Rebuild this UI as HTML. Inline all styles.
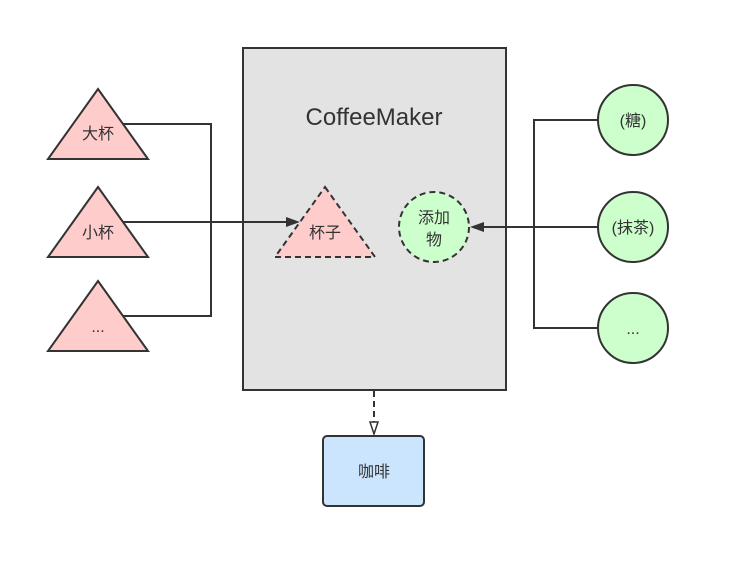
<!DOCTYPE html>
<html><head><meta charset="utf-8"><style>
html,body{margin:0;padding:0;background:#fff;}
svg{display:block;}
text{font-family:"Liberation Sans","Noto Sans CJK SC",sans-serif;fill:#333;}
</style></head><body>
<svg width="730" height="568" viewBox="0 0 730 568" xmlns="http://www.w3.org/2000/svg">
<rect x="243" y="48" width="263" height="342" fill="#e3e3e3" stroke="#333" stroke-width="2"/>
<text x="374" y="125" font-size="24" text-anchor="middle">CoffeeMaker</text>
<g fill="none" stroke="#333" stroke-width="2">
<polyline points="123,124 211,124 211,316 123,316"/>
<line x1="123" y1="222" x2="290" y2="222"/>
<polyline points="598,120 534,120 534,328 598,328"/>
<line x1="598" y1="227" x2="480" y2="227"/>
<line x1="374" y1="391" x2="374" y2="422" stroke-dasharray="6,4"/>
</g>
<polygon points="300,222 286,217 286,227" fill="#333"/>
<polygon points="470,227 484,222 484,232" fill="#333"/>
<polygon points="370,422 378,422 374,434" fill="#fff" stroke="#333" stroke-width="1.5"/>
<g fill="#ffcccc" stroke="#333" stroke-width="2">
<polygon points="98,89 148,159 48,159"/>
<polygon points="98,187 148,257 48,257"/>
<polygon points="98,281 148,351 48,351"/>
<polygon points="325,187 375,257 275,257" stroke-dasharray="6,4"/>
</g>
<g font-size="16" text-anchor="middle">
<text x="98" y="139">大杯</text>
<text x="98" y="238">小杯</text>
<text x="98" y="332">...</text>
<text x="325" y="238">杯子</text>
</g>
<g fill="#ccffcc" stroke="#333" stroke-width="2">
<circle cx="434" cy="227" r="35" stroke-dasharray="6,4"/>
<circle cx="633" cy="120" r="35"/>
<circle cx="633" cy="227" r="35"/>
<circle cx="633" cy="328" r="35"/>
</g>
<g font-size="16" text-anchor="middle">
<text x="434" y="223">添加</text>
<text x="434" y="245">物</text>
<text x="633" y="126">(糖)</text>
<text x="633" y="233">(抹茶)</text>
<text x="633" y="334">...</text>
</g>
<rect x="323" y="436" width="101" height="70" rx="4" fill="#cce5ff" stroke="#333" stroke-width="2"/>
<text x="374" y="477" font-size="16" text-anchor="middle">咖啡</text>
</svg>
</body></html>
